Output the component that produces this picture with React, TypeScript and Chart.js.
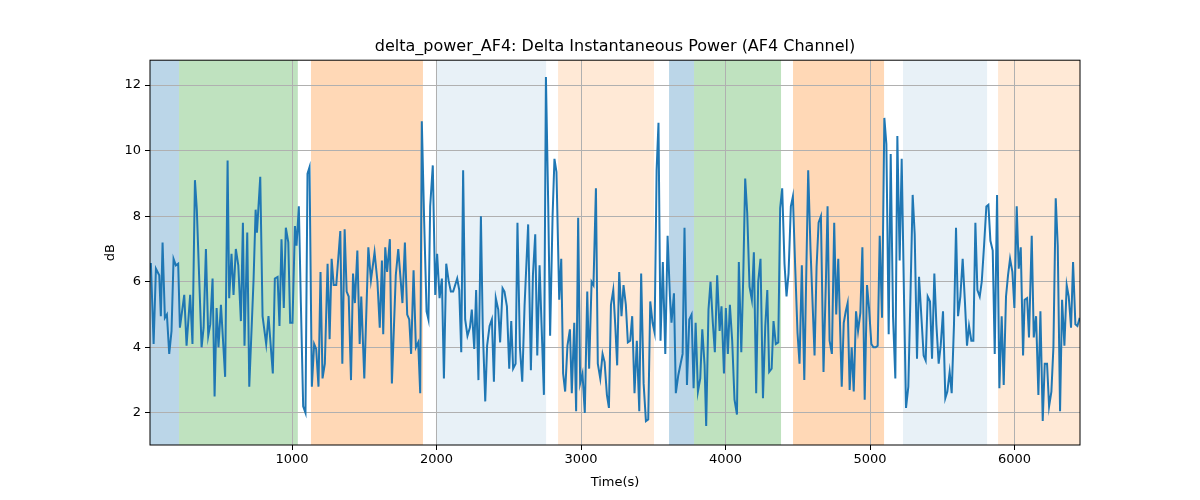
import React, { useEffect, useRef } from "react";
import { Chart, registerables } from "chart.js";
Chart.register(...registerables);

const times = [23,42,58,81,92,104,120,134,150,166,180,196,212,224,254,270,295,311,328,341,374,388,404,420,434,450,464,478,491,508,537,554,565,581,595,611,628,646,660,671,690,704,734,748,757,780,796,821,837,867,881,900,913,927,943,957,974,987,1003,1020,1031,1047,1061,1077,1093,1107,1121,1137,1153,1167,1183,1197,1211,1227,1246,1260,1274,1288,1306,1334,1348,1364,1378,1392,1408,1422,1435,1452,1468,1479,1500,1528,1546,1571,1591,1607,
1622,1631,1645,1658,1677,1691,1718,1735,1764,1781,1797,1811,1824,1841,1857,1873,1887,1898,1914,1931,1944,1956,1974,1991,2004,2021,2037,2051,2067,2083,2099,2115,2143,2157,2171,2184,2198,2214,2231,2244,2261,2274,2290,2307,2320,2337,2350,2367,2383,2397,2410,2427,2440,2457,2470,2487,2503,2517,2530,2547,2560,2577,2593,2609,2634,2653,2667,2683,2697,2713,2727,2743,2757,2773,2786,2803,2816,2830,2849,2863,2876,2890,2906,2923,2936,2953,2966,2980,2994,3010,3026,3043,3056,3073,3086,3103,3116,3133,3149,3163,3179,3193,
3207,3223,3237,3250,3264,3280,3294,3310,3324,3340,3354,3370,3386,3403,3416,3433,3449,3465,3479,3495,3509,3523,3536,3550,3566,3583,3599,3615,3626,3643,3656,3673,3689,3703,3716,3733,3749,3765,3779,3793,3809,3825,3839,3855,3866,3882,3896,3912,3926,3942,3959,3972,3989,4002,4016,4030,4046,4062,4079,4092,4109,4122,4136,4150,4166,4182,4196,4212,4226,4242,4259,4275,4289,4302,4319,4332,4348,4365,4378,4392,4408,4422,4436,4452,4466,4482,4498,4512,4528,4545,4572,4588,4616,4630,4644,4660,4678,4695,4706,4720,4736,4752,4766,4780,
4804,4818,4832,4845,4859,4873,4887,4903,4917,4933,4947,4963,4979,4993,5009,5023,5039,5053,5067,5083,5099,5113,5129,5143,5159,5175,5189,5205,5219,5235,5249,5265,5279,5295,5309,5325,5339,5355,5371,5385,5399,5415,5429,5445,5459,5475,5489,5505,5521,5535,5551,5565,5581,5595,5609,5625,5641,5657,5671,5685,5701,5715,5729,5743,5759,5773,5789,5805,5819,5833,5849,5863,5879,5895,5911,5925,5941,5955,5969,5985,5999,6015,6029,6043,6059,6070,6087,6100,6119,6133,6149,6165,6179,6195,6209,6225,6239,6255,6269,6285,6299,6315,6329,6345,6361,6375,6391,6405,6421,6435,6451];

const values = [6.57,4.1,6.4,6.2,4.95,7.2,4.9,5.0,3.8,4.5,6.7,6.5,6.55,4.6,5.6,4.05,5.6,4.1,9.1,8.2,4.0,4.6,7.0,4.35,4.7,6.1,2.5,5.2,4.0,5.3,3.1,9.7,5.5,6.85,5.6,7.0,6.5,4.8,7.8,4.05,7.5,2.8,6.1,8.2,7.5,9.2,4.95,4.1,4.95,3.2,6.1,6.15,4.65,7.3,5.2,7.65,7.2,4.75,4.75,7.7,7.1,8.3,5.35,2.2,2.0,9.3,9.5,2.8,4.1,3.95,2.8,6.3,3.05,3.5,6.55,4.25,6.7,5.9,5.9,7.55,3.5,7.6,5.7,5.55,3.0,6.25,5.35,6.95,4.1,5.55,3.05,7.05,6.05,6.9,6.0,4.6,
6.65,4.4,7.05,6.3,7.3,2.9,6.2,7.0,5.35,7.2,5.0,4.85,3.8,6.35,4.0,4.15,2.6,10.9,7.9,5.1,4.85,8.3,9.55,5.6,6.85,5.5,6.1,3.05,6.55,6.05,5.7,5.7,6.1,5.75,3.85,9.4,4.85,4.35,4.6,5.15,3.95,5.75,3.0,8.0,4.55,2.35,4.05,4.65,4.85,2.95,5.5,5.15,4.15,5.8,5.7,5.25,3.35,4.8,3.35,3.5,7.8,4.0,2.95,5.25,7.75,3.3,6.2,7.45,3.75,6.5,4.65,2.55,12.25,8.3,4.35,8.0,9.75,9.35,5.45,6.7,3.2,2.65,4.05,4.55,2.6,4.75,2.05,7.95,2.9,3.2,2.0,5.7,3.35,6.0,5.9,8.85,3.5,3.05,3.8,3.55,2.55,2.15,
5.3,5.75,4.65,3.45,6.3,4.95,5.9,5.3,4.15,4.2,4.95,2.6,4.2,2.05,6.25,2.9,1.75,1.8,5.4,4.75,4.45,9.4,10.85,4.2,6.6,3.8,7.4,5.55,4.75,5.65,2.6,3.15,3.5,3.8,7.65,2.85,4.85,5.0,2.75,4.75,2.65,3.05,4.55,3.45,1.6,5.15,6.0,4.75,3.85,6.2,4.5,5.25,3.2,5.2,3.8,5.3,4.2,2.4,1.95,6.6,3.85,6.05,9.15,8.1,5.85,5.45,6.9,2.6,6.0,6.7,2.45,4.65,5.75,3.25,3.35,4.8,4.1,4.15,8.25,8.85,6.55,5.55,6.25,8.3,8.6,6.45,4.45,3.5,6.5,3.0,9.4,7.0,3.75,6.45,7.8,8.0,3.25,6.1,8.3,4.2,3.8,7.8,5.0,6.7,
2.8,4.75,5.1,5.35,2.7,4.0,2.65,5.1,4.5,5.05,7.05,2.4,5.9,5.2,4.1,4.0,4.0,4.05,7.4,4.9,11.0,10.2,4.4,9.9,4.95,3.05,10.45,6.65,9.75,5.55,2.15,2.8,5.45,8.65,7.45,3.65,6.15,4.95,3.75,3.6,5.55,5.4,3.65,6.25,4.7,3.5,4.05,5.1,2.45,2.65,3.25,2.6,4.7,7.65,4.95,5.55,6.7,5.35,4.05,4.65,4.2,4.2,7.8,5.75,5.55,6.0,7.1,8.3,8.35,7.25,6.95,3.8,8.65,2.75,4.95,2.85,5.55,6.2,6.7,6.3,5.2,8.3,6.4,7.05,3.75,5.45,5.5,4.3,7.4,4.3,4.95,2.55,5.1,1.75,3.5,3.5,2.2,2.65,4.0,8.55,7.1,2.05,5.45,4.05,5.9,5.55,4.6,6.6,4.7,4.65,4.9];

const bandStarts = [17, 218, 1131, 1996, 2841, 3609, 3782, 4467, 5228, 5886];
const bandEnds = [218, 1040, 1906, 2758, 3505, 3782, 4384, 5097, 5810, 6453];
const bandColors = [
  "rgba(31,119,180,0.3)", "rgba(44,160,44,0.3)", "rgba(255,127,14,0.3)", "rgba(31,119,180,0.1)", "rgba(255,127,14,0.17)",
  "rgba(31,119,180,0.3)", "rgba(44,160,44,0.3)", "rgba(255,127,14,0.3)", "rgba(31,119,180,0.1)", "rgba(255,127,14,0.17)",
];
const xTicks = [1000, 2000, 3000, 4000, 5000, 6000];
const yTicks = [2, 4, 6, 8, 10, 12];

const FONT = "'DejaVu Sans', sans-serif";

export default function App() {
  const ref = useRef<HTMLCanvasElement>(null);
  useEffect(() => {
    document.body.style.margin = "0";
    const bands = {
      id: "bands",
      beforeDraw(chart: any) {
        const { ctx, chartArea: a, scales } = chart;
        ctx.save();
        ctx.fillStyle = "#fff";
        ctx.fillRect(0, 0, chart.width, chart.height);
        bandStarts.forEach((s, i) => {
          const x1 = Math.max(a.left, scales.x.getPixelForValue(s));
          const x2 = Math.min(a.right, scales.x.getPixelForValue(bandEnds[i]));
          ctx.fillStyle = bandColors[i];
          ctx.fillRect(x1, a.top, x2 - x1, a.bottom - a.top);
        });
        ctx.restore();
      },
      afterDraw(chart: any) {
        const { ctx, chartArea: a } = chart;
        ctx.save();
        ctx.strokeStyle = "#000";
        ctx.lineWidth = 1;
        ctx.strokeRect(a.left, a.top, a.right - a.left, a.bottom - a.top);
        ctx.restore();
      },
    };
    const chart = new Chart(ref.current!, {
      type: "line",
      data: {
        datasets: [{
          data: times.map((t, i) => ({ x: t, y: values[i] })),
          borderColor: "#1f77b4",
          borderWidth: 2,
          pointRadius: 0,
          tension: 0,
        }],
      },
      options: {
        animation: false,
        responsive: false,
        layout: { padding: { left: 0, right: 120, top: 0, bottom: 0 } },
        plugins: {
          legend: { display: false },
          tooltip: { enabled: false },
          title: {
            display: true,
            text: "delta_power_AF4: Delta Instantaneous Power (AF4 Channel)",
            color: "#000",
            font: { family: FONT, size: 16, weight: "normal" },
            padding: { top: 37, bottom: 4 },
            fullSize: false,
          },
        },
        scales: {
          x: {
            type: "linear",
            min: 17,
            max: 6453,
            afterBuildTicks: (s: any) => { s.ticks = xTicks.map((v) => ({ value: v })); },
            afterFit: (s: any) => { s.height = 55; },
            ticks: { color: "#000", font: { family: FONT, size: 13 }, padding: 2, maxRotation: 0, callback: (v: any) => String(v) },
            grid: { color: "#b0b0b0", lineWidth: 1, tickColor: "#000", tickLength: 5 },
            border: { display: false },
            title: { display: true, text: "Time(s)", color: "#000", font: { family: FONT, size: 13 }, padding: { top: 2, bottom: 10 } },
          },
          y: {
            min: 1.02,
            max: 12.76,
            afterBuildTicks: (s: any) => { s.ticks = yTicks.map((v) => ({ value: v })); },
            afterFit: (s: any) => { s.width = 150; },
            ticks: { color: "#000", font: { family: FONT, size: 13 }, padding: 4 },
            grid: { color: "#b0b0b0", lineWidth: 1, tickColor: "#000", tickLength: 5 },
            border: { display: false },
            title: { display: true, text: "dB", color: "#000", font: { family: FONT, size: 13 }, padding: { top: 103, bottom: 8 } },
          },
        },
      },
      plugins: [bands],
    } as any);
    return () => chart.destroy();
  }, []);
  return <canvas ref={ref} width={1200} height={500} style={{ display: "block" }} />;
}
